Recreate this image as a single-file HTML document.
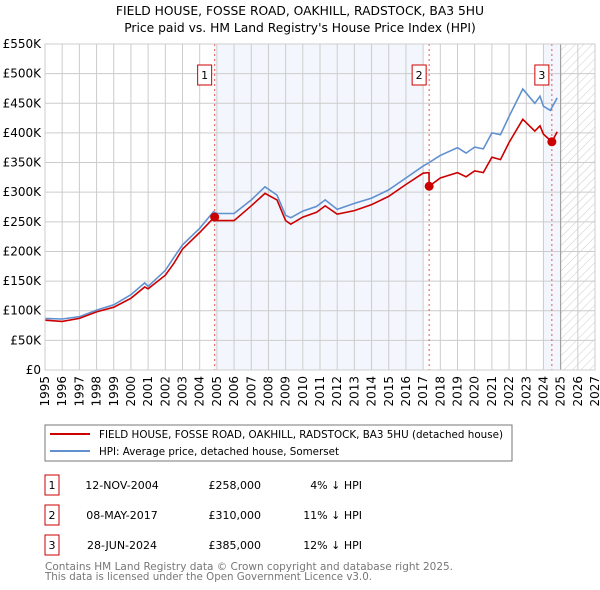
<!DOCTYPE html>
<html><head><meta charset="utf-8"><style>
html,body{margin:0;padding:0;background:#fff;}
svg{display:block;font-family:"DejaVu Sans","Liberation Sans",sans-serif;}
</style></head><body>
<svg id="chart" width="600" height="590" viewBox="0 0 600 590" xmlns="http://www.w3.org/2000/svg">
<text x="300" y="15" text-anchor="middle" font-size="12.3">FIELD HOUSE, FOSSE ROAD, OAKHILL, RADSTOCK, BA3 5HU</text>
<text x="300" y="32" text-anchor="middle" font-size="12.3">Price paid vs. HM Land Registry's House Price Index (HPI)</text>
<g id="plot"></g>
<g>
<rect x="45" y="425" width="467" height="36" fill="#fff" stroke="#777" stroke-width="1"/>
<line x1="50" y1="434" x2="90" y2="434" stroke="#cc0000" stroke-width="2"/>
<text x="99" y="438" font-size="10.5" textLength="404" lengthAdjust="spacingAndGlyphs">FIELD HOUSE, FOSSE ROAD, OAKHILL, RADSTOCK, BA3 5HU (detached house)</text>
<line x1="50" y1="451" x2="90" y2="451" stroke="#6090d0" stroke-width="2"/>
<text x="99" y="455" font-size="10.5" textLength="240" lengthAdjust="spacingAndGlyphs">HPI: Average price, detached house, Somerset</text>
</g>
<g id="table" font-size="11"></g>
<text x="45" y="570" font-size="11" fill="#777" textLength="408" lengthAdjust="spacingAndGlyphs">Contains HM Land Registry data © Crown copyright and database right 2025.</text>
<text x="45" y="580" font-size="11" fill="#777" textLength="327" lengthAdjust="spacingAndGlyphs">This data is licensed under the Open Government Licence v3.0.</text>
</svg>
<script>
const yTicks=[0,50,100,150,200,250,300,350,400,450,500,550];
const yTickLabels=["£0","£50K","£100K","£150K","£200K","£250K","£300K","£350K","£400K","£450K","£500K","£550K"];
const xYears=[1995,1996,1997,1998,1999,2000,2001,2002,2003,2004,2005,2006,2007,2008,2009,2010,2011,2012,2013,2014,2015,2016,2017,2018,2019,2020,2021,2022,2023,2024,2025,2026,2027];
const hpiYears=[1995,1996,1997,1998,1999,2000,2000.8,2001,2002,2002.5,2003,2004,2004.8,2005,2006,2007,2007.8,2008.5,2009,2009.3,2010,2010.8,2011.3,2012,2013,2014,2015,2016,2017,2017.3,2018,2019,2019.5,2020,2020.5,2021,2021.5,2022,2022.8,2023.5,2023.8,2024,2024.4,2024.8];
const hpiValues=[87,86,90,101,110,127,147,141,168,190,211,239,267,264,264,287,309,295,261,257,268,276,287,271,281,290,304,324,344,349,362,375,366,376,373,400,397,428,474,450,462,445,438,459];
const priceYears=[1995,1996,1997,1998,1999,2000,2000.8,2001,2002,2002.5,2003,2004,2004.86,2004.87,2005,2006,2007,2007.8,2008.5,2009,2009.3,2010,2010.8,2011.3,2012,2013,2014,2015,2016,2017,2017.34,2017.35,2018,2019,2019.5,2020,2020.5,2021,2021.5,2022,2022.8,2023.5,2023.8,2024,2024.49,2024.8];
const priceValues=[84,82,87,98,106,121,140,137,160,180,204,232,258,258,252,252,277,298,287,252,246,258,266,277,263,269,279,293,313,332,333,310,324,333,326,336,333,359,355,384,423,403,412,398,385,402];
const saleIds=["1","2","3"];
const saleYears=[2004.87,2017.35,2024.49];
const saleValues=[258,310,385];
const saleDates=["12-NOV-2004","08-MAY-2017","28-JUN-2024"];
const salePrices=["£258,000","£310,000","£385,000"];
const saleDiffs=["4% ↓ HPI","11% ↓ HPI","12% ↓ HPI"];

const NS="http://www.w3.org/2000/svg";
const X0=45,X1=595,Y0=370,Y1=44;
const xs=y=>X0+(y-1995)*(X1-X0)/32;
const ys=v=>Y0-v*(Y0-Y1)/550;
const plot=document.getElementById('plot');
function mk(tag,attrs,parent){const e=document.createElementNS(NS,tag);for(const k in attrs)e.setAttribute(k,attrs[k]);(parent||plot).appendChild(e);return e;}

let s=mk('rect',{x:xs(2004.87),y:Y1,width:xs(2017)-xs(2004.87),height:Y0-Y1,fill:'#eef3fc',opacity:0.7});


s=mk('rect',{x:xs(2024),y:Y1,width:xs(2025)-xs(2024),height:Y0-Y1,fill:'#eef3fc',opacity:0.7});


const defs=mk('defs',{});
const pat=mk('pattern',{id:'hatch',width:6,height:6,patternUnits:'userSpaceOnUse',patternTransform:'rotate(45)'},defs);
mk('line',{x1:0,y1:0,x2:0,y2:6,stroke:'#ccc','stroke-width':1},pat);
s=mk('rect',{x:xs(2025),y:Y1,width:X1-xs(2025),height:Y0-Y1,fill:'url(#hatch)'});



yTicks.forEach((t,i)=>{
 const g=mk('line',{x1:X0,x2:X1,y1:ys(t),y2:ys(t),stroke:'#cccccc','stroke-width':1});
 
 
 const l=mk('text',{x:X0-4,y:ys(t)+4,'text-anchor':'end','font-size':12});
 
 
 l.textContent=yTickLabels[i];
});
xYears.forEach(yr=>{
 const g=mk('line',{x1:xs(yr),x2:xs(yr),y1:Y1,y2:Y0,stroke:'#cccccc','stroke-width':1});
 
 
 const l=mk('text',{x:0,y:0,'text-anchor':'end','font-size':12,transform:`translate(${xs(yr)+4},${Y0+6}) rotate(-90)`});
 
 
 l.textContent=yr;
});
let b=mk('line',{x1:xs(2025),x2:xs(2025),y1:Y1,y2:Y0,stroke:'#999','stroke-width':1});



saleYears.forEach((yr,i)=>{
 const v=mk('line',{x1:xs(yr),x2:xs(yr),y1:Y1,y2:Y0,stroke:'#ee5555','stroke-width':1,'stroke-dasharray':'2,3'});
 
 
});

function path(xsArr,vals){return xsArr.map((yr,i)=>(i?'L':'M')+xs(yr).toFixed(1)+','+ys(vals[i]).toFixed(1)).join('');}
const hp=mk('path',{d:path(hpiYears,hpiValues),fill:'none',stroke:'#6090d0','stroke-width':1.6});


const pp=mk('path',{d:path(priceYears,priceValues),fill:'none',stroke:'#cc0000','stroke-width':1.6});



saleYears.forEach((yr,i)=>{
 const c=mk('circle',{cx:xs(yr),cy:ys(saleValues[i]),r:4.5,fill:'#cc0000'});
 
 
 const bx=mk('rect',{x:xs(yr)-17,y:65,width:14,height:20,fill:'#fff',stroke:'#cc0000','stroke-width':1});
 
 
 const t=mk('text',{x:xs(yr)-10,y:79,'text-anchor':'middle','font-size':11});
 
 
 t.textContent=saleIds[i];
});
mk('rect',{x:X0,y:Y1,width:X1-X0,height:Y0-Y1,fill:'none',stroke:'#cccccc','stroke-width':1});

const tbl=document.getElementById('table');
saleIds.forEach((id,i)=>{
 const y=475+i*30;
 const r=mk('rect',{x:45,y:y,width:14,height:20,fill:'#fff',stroke:'#cc0000','stroke-width':1},tbl);
 
 
 const cells=[[52,'middle',id,'table-id'],[122,'middle',saleDates[i],'table-date'],[261,'end',salePrices[i],'table-price'],[362,'end',saleDiffs[i],'table-hpi-diff']];
 cells.forEach(c=>{
  const t=mk('text',{x:c[0],y:y+14,'text-anchor':c[1],'font-size':11},tbl);
  
  
  t.textContent=c[2];
 });
});
</script>
</body></html>
